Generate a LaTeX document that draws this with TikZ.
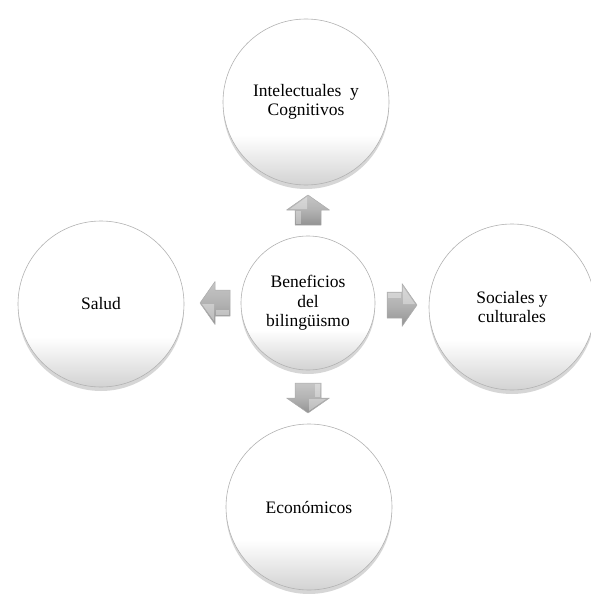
\documentclass[tikz,border=0pt]{standalone}
\usepackage{fontspec}
\setmainfont{Liberation Serif}
\usetikzlibrary{shadows}
\pgfdeclareverticalshading{ballshade}{100bp}{color(0bp)=(gray!35); color(25bp)=(gray!35); color(40bp)=(white); color(100bp)=(white)}
\pgfdeclareverticalshading{arrowshade}{100bp}{color(0bp)=(gray!85); color(25bp)=(gray!85); color(50bp)=(gray!60); color(75bp)=(gray!45); color(100bp)=(gray!45)}
\begin{document}
\begin{tikzpicture}[x=1pt,y=-1pt,
  ball/.style={circle, draw=gray!60, line width=0.6pt, inner sep=0pt,
    shading=ballshade,
    drop shadow={shadow xshift=0pt, shadow yshift=-4pt, opacity=0.4, fill=gray!80},
    font=\fontsize{17.5}{19.5}\selectfont, align=center, text=black},
  outer/.style={ball, minimum size=166pt},
  inner/.style={ball, minimum size=134pt},
  arrowfill/.style={draw=gray!65, line width=0.5pt, shading=arrowshade, line join=round},
  arrowlight/.style={fill=white, opacity=0.35},
  blockarrow/.pic={
    \path[arrowfill] (-15,-13) -- (0,-13) -- (0,-21.5) -- (15,0) -- (0,21.5) -- (0,13) -- (-15,13) -- cycle;
    \path[arrowlight] (1,-18) -- (13,-1) -- (1,-1) -- cycle;
    \path[arrowlight] (-14,-12) -- (-1,-12) -- (-1,-7) -- (-14,-7) -- cycle;
  }
]
\useasboundingbox (0,0) rectangle (591,594);
\node[outer] (top) at (306,102) {Intelectuales~ y\\Cognitivos};
\node[outer] (left) at (101,304) {Salud};
\node[outer] (right) at (512,307) {Sociales y\\culturales};
\node[outer] (bottom) at (309,507) {Económicos};
\node[inner] (center) at (308,303) {Beneficios\\del\\bilingüismo};
\pic[rotate=90] (aup) at (308,210) {blockarrow};
\pic[rotate=180] (aleft) at (215,303) {blockarrow};
\pic[rotate=0] (aright) at (402,305) {blockarrow};
\pic[rotate=270] (adown) at (308,398) {blockarrow};
\end{tikzpicture}
\end{document}
